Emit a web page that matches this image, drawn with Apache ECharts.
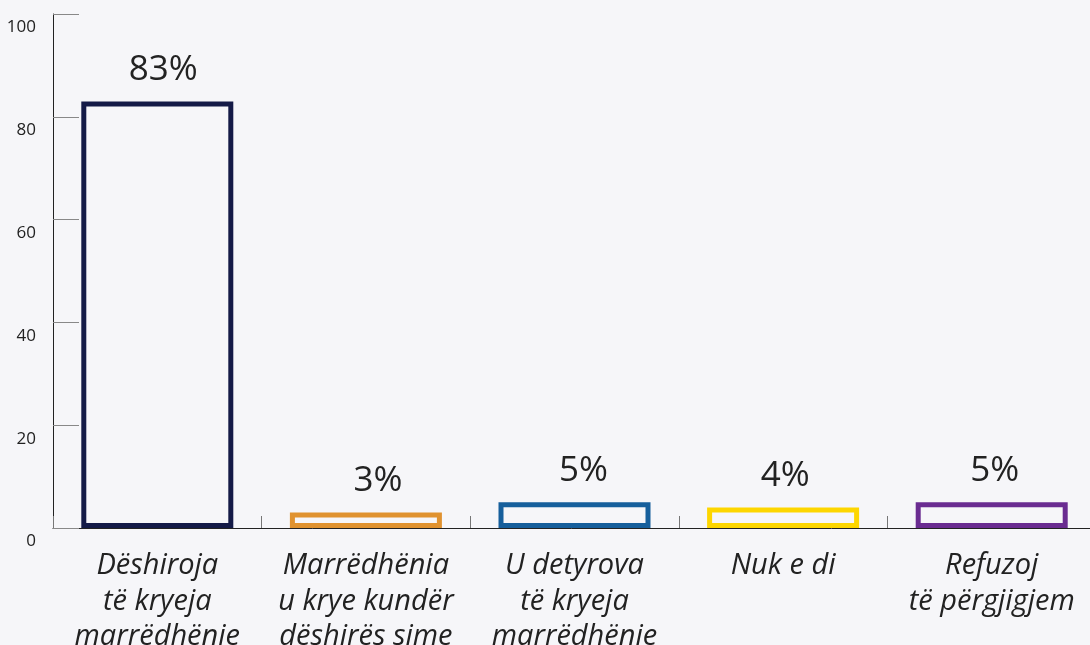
<!DOCTYPE html>
<html>
<head>
<meta charset="utf-8">
<script src="https://cdn.jsdelivr.net/npm/echarts@6/dist/echarts.min.js"></script>
<style>
  html, body { margin: 0; padding: 0; background: #f6f6f9; }
  #chart { width: 1090px; height: 645px; }
</style>
</head>
<body>
<div id="chart"></div>
<script>
let categories = [
  "Dëshiroja\ntë kryeja\nmarrëdhënie",
  "Marrëdhënia\nu krye kundër\ndëshirës sime",
  "U detyrova\ntë kryeja\nmarrëdhënie",
  "Nuk e di",
  "Refuzoj\ntë përgjigjem",
];
let values = [83, 3, 5, 4, 5];
let barColors = ["#141a47", "#e0922f", "#165f9c", "#fdd600", "#6a2c91"];
let yTicks = [0, 20, 40, 60, 80, 100];

// labels in the original sit a little right of centre
let labelShift = [6, 12, 9, 2, 3];

function buildData() {
  return values.map((v, i) => ({
    value: v,
    itemStyle: {
      color: "transparent",
      borderColor: barColors[i],
      borderWidth: 5,
    },
    label: { offset: [labelShift[i], 0] },
  }));
}

echarts.init(document.getElementById("chart")).setOption({
  backgroundColor: "#f6f6f9",
  animation: false,
  grid: {
    left: 53,
    top: 14,
    width: 1043,
    bottom: 117,
    containLabel: false,
    outerBoundsMode: "none",
  },
  xAxis: {
    type: "category",
    data: categories,
    axisLine: { lineStyle: { color: "#222", width: 1 } },
    axisTick: {
      show: true,
      inside: true,
      length: 12,
      lineStyle: { color: "#777" },
    },
    axisLabel: {
      interval: 0,
      margin: 20,
      fontFamily: "Open Sans",
      fontStyle: "italic",
      fontSize: 29,
      lineHeight: 35.5,
      color: "#222",
    },
  },
  yAxis: {
    type: "value",
    min: yTicks[0],
    max: yTicks[yTicks.length - 1],
    interval: 20,
    splitLine: { show: false },
    axisLine: { show: true, lineStyle: { color: "#222", width: 1 } },
    axisTick: {
      show: true,
      inside: true,
      length: 26,
      lineStyle: { color: "#888" },
    },
    axisLabel: {
      margin: 17,
      fontFamily: "Open Sans",
      fontSize: 17,
      color: "#222",
      verticalAlign: "top",
      padding: [5, 0, 0, 0],
    },
  },
  series: [
    {
      type: "bar",
      data: buildData(),
      barWidth: 152,
      label: {
        show: true,
        position: "top",
        distance: 14,
        formatter: "{c}%",
        fontFamily: "Open Sans",
        fontSize: 35,
        color: "#222",
      },
    },
  ],
});
</script>
</body>
</html>
